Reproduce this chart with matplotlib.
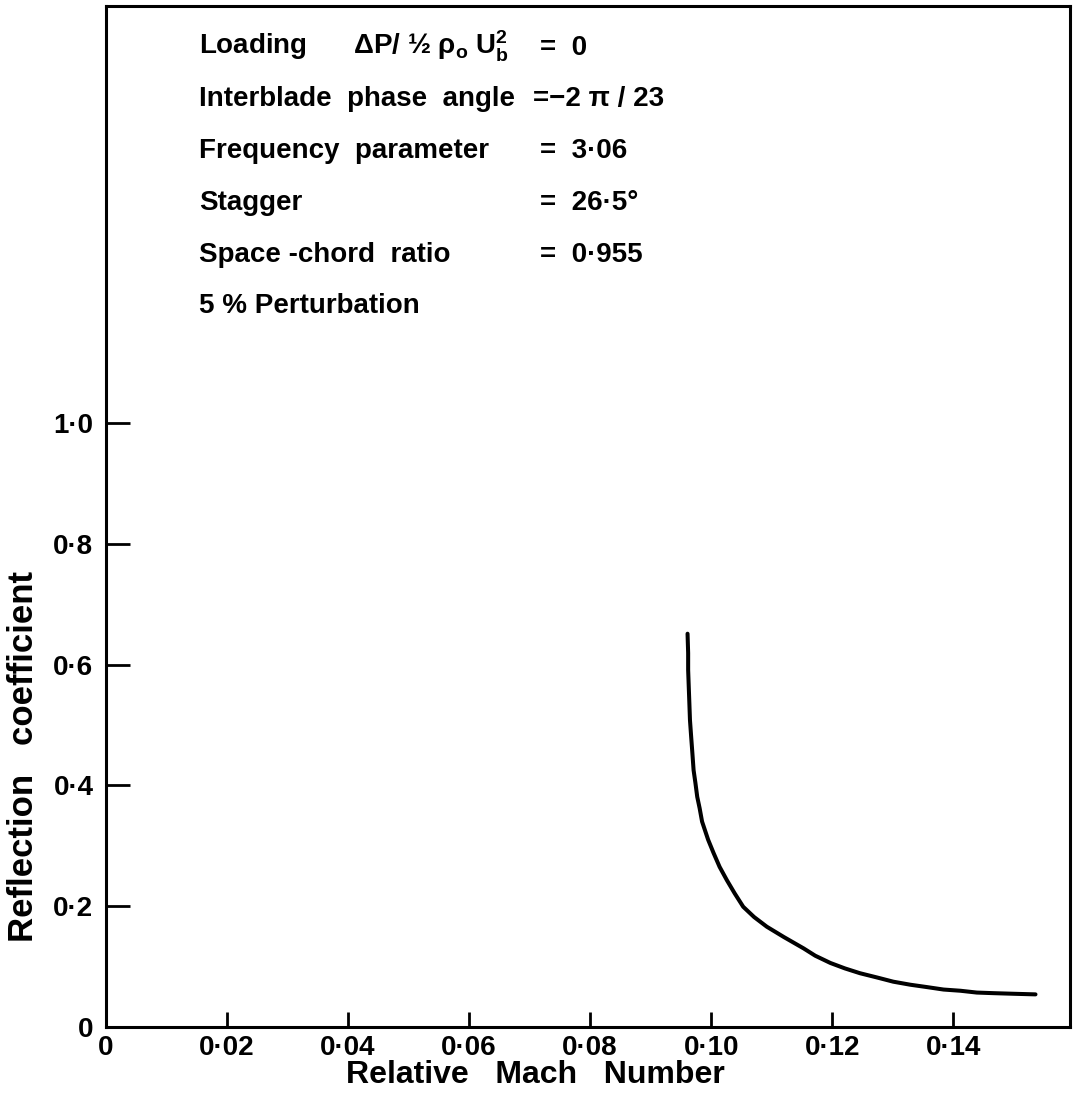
# coding=utf-8
import matplotlib
matplotlib.use("Agg")
import matplotlib.pyplot as plt

plt.rcParams['font.family'] = ['Liberation Sans', 'DejaVu Sans']
plt.rcParams['font.weight'] = 'bold'
plt.rcParams['axes.labelweight'] = 'bold'
plt.rcParams['mathtext.fontset'] = 'custom'
plt.rcParams['mathtext.rm'] = 'Liberation Sans:bold'
plt.rcParams['mathtext.it'] = 'Liberation Sans:bold'

# curve
mach = [0.0961, 0.0962, 0.0962, 0.0963, 0.0964, 0.0965, 0.0967, 0.0969,
        0.0971, 0.0974, 0.0977, 0.0981, 0.0985, 0.0995, 0.1004, 0.1014,
        0.1026, 0.1039, 0.1053, 0.1071, 0.1092, 0.1120, 0.1153, 0.1172,
        0.1197, 0.1221, 0.1246, 0.1274, 0.1301, 0.1329, 0.1357, 0.1384,
        0.1412, 0.1439, 0.1467, 0.1500, 0.1536]
refl = [0.651, 0.619, 0.591, 0.563, 0.536, 0.508, 0.480, 0.453,
        0.425, 0.404, 0.381, 0.362, 0.340, 0.310, 0.288, 0.265,
        0.243, 0.221, 0.199, 0.182, 0.166, 0.149, 0.130, 0.118,
        0.106, 0.097, 0.089, 0.082, 0.075, 0.070, 0.066, 0.062,
        0.060, 0.057, 0.056, 0.055, 0.054]

xticks = [0, 0.02, 0.04, 0.06, 0.08, 0.10, 0.12, 0.14]
xticklabels = ["0", "0·02", "0·04", "0·06", "0·08", "0·10", "0·12", "0·14"]
yticks = [0, 0.2, 0.4, 0.6, 0.8, 1.0]
yticklabels = ["0", "0·2", "0·4", "0·6", "0·8", "1·0"]

param_names = [r"Loading      ΔP/ ½ ρ$_\mathrm{o}$ U$_\mathrm{b}^\mathrm{2}$",
               "Interblade  phase  angle",
               "Frequency  parameter",
               "Stagger",
               "Space -chord  ratio",
               "5 % Perturbation"]
param_values = ["=  0", "=−2 π / 23", "=  3·06", "=  26·5°", "=  0·955", ""]

W, H = 1075, 1095
fig = plt.figure(figsize=(W / 100, H / 100), dpi=100)
ax = fig.add_axes([106 / W, 1 - 1027 / H, 964 / W, 1021 / H])

ax.plot(mach, refl, color='black', lw=2.9, solid_capstyle='round',
        solid_joinstyle='round')

ax.set_xlim(0, 0.1593)
ax.set_ylim(0, 1.69)
ax.set_xticks(xticks)
ax.set_xticklabels(xticklabels, fontsize=20)
ax.set_yticks(yticks)
ax.set_yticklabels(yticklabels, fontsize=20)
ax.tick_params(axis='x', direction='in', length=11, width=2, pad=6)
ax.tick_params(axis='y', direction='in', length=17, width=2, pad=9)
for sp in ax.spines.values():
    sp.set_linewidth(2.2)

ax.set_xlabel("Relative   Mach   Number", fontsize=23)
ax.xaxis.set_label_coords((535 - 106) / 964, (1027 - 1060) / 1021)
ax.set_ylabel("Reflection   coefficient", fontsize=25)
ax.yaxis.set_label_coords((40 - 106) / 964, (1027 - 757) / 1021)

baselines = [55, 106, 158, 210, 262, 313]
for i, (name, val) in enumerate(zip(param_names, param_values)):
    yb = 1 - baselines[i] / H
    fig.text(199 / W, yb, name, fontsize=20, va='baseline', ha='left')
    if val:
        xv = 533 if i == 1 else 540
        fig.text(xv / W, yb, val, fontsize=20, va='baseline', ha='left')

fig.savefig("out.png", dpi=100)
